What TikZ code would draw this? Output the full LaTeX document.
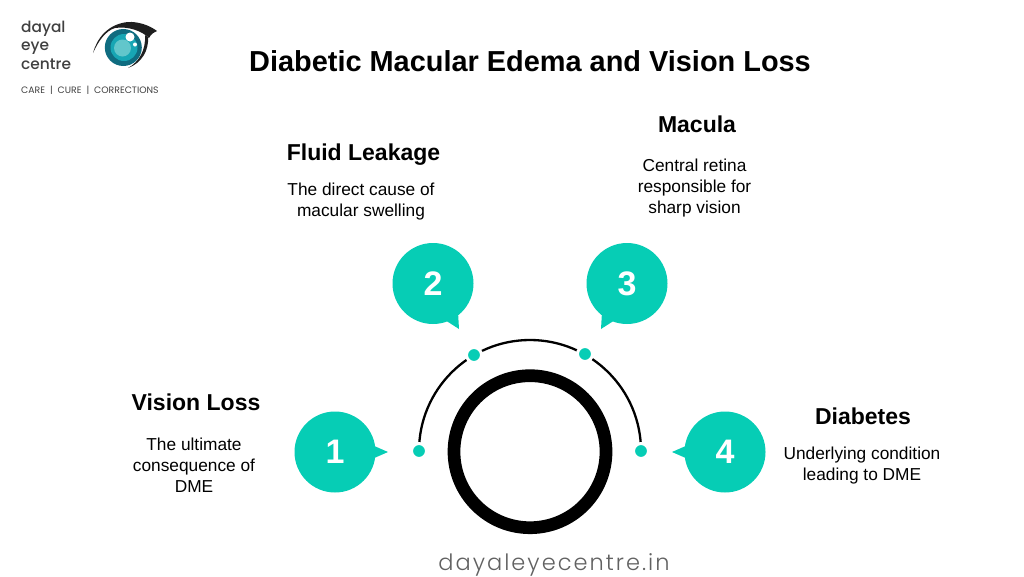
\documentclass[tikz,border=0pt]{standalone}
\usetikzlibrary{backgrounds}
\usepackage{fontspec}
\setmainfont{Liberation Sans}
\newfontfamily\pop{Poppins}
\newfontfamily\popm{Poppins Medium}
\newfontfamily\popl[LetterSpace=9]{Poppins Light}
\definecolor{teal1}{HTML}{06CDB5}
\definecolor{logotxt}{HTML}{404040}
\definecolor{irisA}{HTML}{0F6C80}
\definecolor{irisB}{HTML}{17A6B4}
\definecolor{irisC}{HTML}{62C6CB}
\tikzset{
  bub/.style={circle,fill=teal1,minimum size=81pt,inner sep=0pt,text=white,font=\fontsize{34}{34}\selectfont\bfseries},
  tail/.style={fill=teal1,draw=none},
  dotn/.style={circle,fill=teal1,draw=white,line width=3pt,minimum size=15pt,inner sep=0pt},
  head/.style={font=\fontsize{23}{26}\selectfont\bfseries,text=black,anchor=center},
  body/.style={font=\fontsize{17.3}{21}\selectfont,align=center,text=black,anchor=center},
  logot/.style={font=\popm\fontsize{15.4}{18}\selectfont,text=logotxt,anchor=base west,inner sep=0pt},
  arcline/.style={black,line width=2.3pt},
}
\begin{document}
\begin{tikzpicture}[x=1pt,y=-1pt]
\useasboundingbox (0,0) rectangle (1024,576);
% logo
\fill[black!88] (93,53) .. controls (97,38) and (108,24) .. (128,22) .. controls (138,21.5) and (149,25) .. (157,31) .. controls (154,32) and (151,34) .. (149,38) .. controls (142,31) and (128,26) .. (115,28) .. controls (105,31) and (98,42) .. (93,53) -- cycle;
\fill[black!88] (148,37) .. controls (149,50) and (142,63) .. (128,68) .. controls (139,62) and (146,50) .. (145,35) -- cycle;
\node[circle,fill=irisA,minimum size=37pt,inner sep=0pt] (iris) at (123.3,47.5) {};
\node[circle,fill=irisB,minimum size=27pt,inner sep=0pt] (ringb) at (124,47.5) {};
\node[circle,fill=irisC,minimum size=17pt,inner sep=0pt] (pupil) at (122.5,48) {};
\node[circle,fill=white,minimum size=9pt,inner sep=0pt] (hl1) at (130,37) {};
\node[circle,fill=white,minimum size=4pt,inner sep=0pt] (hl2) at (135,44.5) {};
\node[logot] (l1) at (21,32) {dayal};
\node[logot] (l2) at (21,50) {eye};
\node[logot] (l3) at (21,69) {centre};
\node[font=\pop\fontsize{9.3}{11}\selectfont,text=logotxt,anchor=west,inner sep=0pt] (l4) at (21,90.5) {CARE \ | \ CURE \ | \ CORRECTIONS};
% title
\node[font=\fontsize{28.9}{32}\selectfont\bfseries,text=black] (title) at (530,61) {Diabetic Macular Edema and Vision Loss};
% ring
\node[circle,draw=black,line width=12.7pt,minimum size=152pt,inner sep=0pt] (ring) at (530,451.7) {};
% dots + arc
\node[dotn] (d1) at (419,451) {};
\node[dotn] (d2) at (474,355) {};
\node[dotn] (d3) at (585,354) {};
\node[dotn] (d4) at (641,451) {};
\begin{scope}[on background layer]
\draw[arcline] (d1.center) arc[start angle=180,delta angle=180,radius=111];
\end{scope}
% tails
\fill[tail] (372,445) -- (388,452) -- (372,459) -- cycle;
\fill[tail] (445,320) -- (459,329) -- (458,312) -- cycle;
\fill[tail] (615,320) -- (601,329) -- (602,312) -- cycle;
\fill[tail] (688,445) -- (672,452) -- (688,459) -- cycle;
% bubbles
\node[bub] (b1) at (335,452) {1};
\node[bub] (b2) at (433,283.5) {\raisebox{-1.5pt}{2}};
\node[bub] (b3) at (627,283.5) {\raisebox{-1.5pt}{3}};
\node[bub] (b4) at (725,452) {4};
% text
\node[head] (h1) at (196,402.5) {Vision Loss};
\node[body] (t1) at (194,465) {The ultimate\\consequence of\\DME};
\node[head] (h2) at (363.5,154.5) {Fluid Leakage};
\node[body] (t2) at (361,202) {The direct cause of\\macular swelling};
\node[head] (h3) at (697,124) {Macula};
\node[body] (t3) at (694.5,188) {Central retina\\responsible for\\sharp vision};
\node[head] (h4) at (863,416) {Diabetes};
\node[body] (t4) at (862,466) {Underlying condition\\leading to DME};
% footer
\node[font=\popl\fontsize{22.5}{26}\selectfont,text=black!62,anchor=base,inner sep=0pt] (foot) at (554,570) {dayaleyecentre.in};
\end{tikzpicture}
\end{document}
